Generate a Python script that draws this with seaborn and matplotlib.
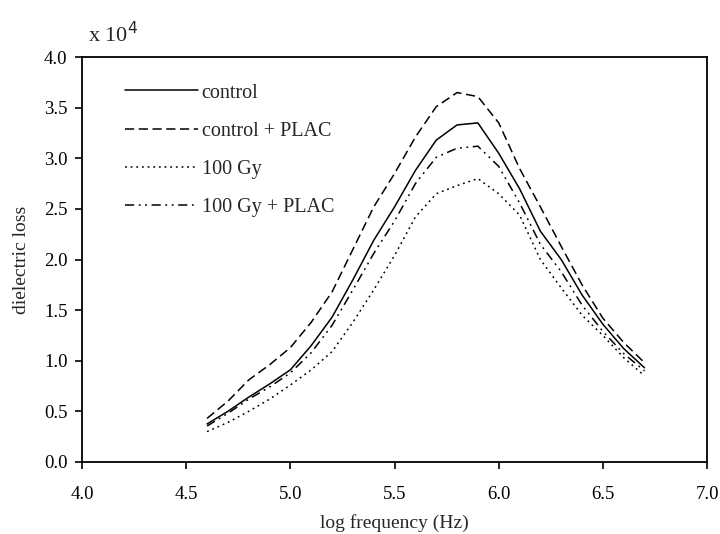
import matplotlib
matplotlib.use("Agg")
import matplotlib.pyplot as plt
import seaborn as sns
import numpy as np
import pandas as pd

# log frequency (Hz)
log_freq = [4.6, 4.7, 4.8, 4.9, 5.0, 5.1, 5.2, 5.3, 5.4, 5.5, 5.6,
            5.7, 5.8, 5.9, 6.0, 6.1, 6.2, 6.3, 6.4, 6.5, 6.6, 6.7]

# dielectric loss (x 10^4)
control = [0.375, 0.50, 0.64, 0.77, 0.91, 1.15, 1.43, 1.80, 2.19, 2.52, 2.88,
           3.18, 3.33, 3.35, 3.05, 2.70, 2.28, 2.00, 1.65, 1.36, 1.12, 0.93]
control_plac = [0.43, 0.60, 0.81, 0.96, 1.13, 1.38, 1.68, 2.10, 2.52, 2.85, 3.21,
                3.51, 3.65, 3.61, 3.35, 2.90, 2.52, 2.13, 1.75, 1.42, 1.18, 0.98]
gy100 = [0.30, 0.39, 0.50, 0.62, 0.76, 0.91, 1.09, 1.38, 1.70, 2.04, 2.42,
         2.65, 2.73, 2.80, 2.65, 2.44, 2.00, 1.72, 1.45, 1.25, 1.03, 0.85]
gy100_plac = [0.355, 0.48, 0.62, 0.74, 0.88, 1.08, 1.35, 1.70, 2.06, 2.38, 2.75,
              3.01, 3.10, 3.12, 2.92, 2.56, 2.15, 1.88, 1.55, 1.29, 1.07, 0.90]

labels = ["control", "control + PLAC", "100 Gy", "100 Gy + PLAC"]

df = pd.concat([
    pd.DataFrame({"x": log_freq, "y": vals, "group": lab})
    for lab, vals in zip(labels, [control, control_plac, gy100, gy100_plac])
])

sns.set_style("ticks")
plt.rcParams["font.family"] = ["Liberation Serif", "DejaVu Serif"]

fig = plt.figure(figsize=(7.2, 5.34), dpi=100)
ax = fig.add_axes([0.114, 0.135, 0.868, 0.758])

dash_styles = {
    "control": "",
    "control + PLAC": (6, 3),
    "100 Gy": (1.2, 2.5),
    "100 Gy + PLAC": (6, 3, 1.2, 3, 1.2, 3),
}
sns.lineplot(data=df, x="x", y="y", style="group", dashes=dash_styles,
             color="black", linewidth=1.1, ax=ax, legend=True)

ax.set_xlim(4.0, 7.0)
ax.set_ylim(0.0, 4.0)
ax.set_xticks(np.arange(4.0, 7.01, 0.5))
ax.set_yticks(np.arange(0.0, 4.01, 0.5))
ax.xaxis.set_major_formatter(matplotlib.ticker.FormatStrFormatter("%.1f"))
ax.yaxis.set_major_formatter(matplotlib.ticker.FormatStrFormatter("%.1f"))
ax.tick_params(direction="out", length=5, width=1.2, labelsize=13.5, colors="black")
ax.tick_params(axis="x", pad=12.5)
ax.tick_params(axis="y", pad=5.5)
for s in ax.spines.values():
    s.set_linewidth(1.3)
    s.set_color("black")

ax.set_xlabel("log frequency (Hz)", fontsize=14, labelpad=8)
ax.set_ylabel("dielectric loss", fontsize=14, labelpad=10)
fig.text(0.122, 0.921, r"x 10$^4$", fontsize=16, ha="left", va="baseline")

leg = ax.legend(loc="upper left", frameon=False, fontsize=14.5, handlelength=3.6,
                handletextpad=0.2, labelspacing=0.95, borderpad=0,
                borderaxespad=0, bbox_to_anchor=(0.069, 0.935))
for h in leg.get_lines():
    h.set_linewidth(1.1)

fig.savefig("out.png", dpi=100)
